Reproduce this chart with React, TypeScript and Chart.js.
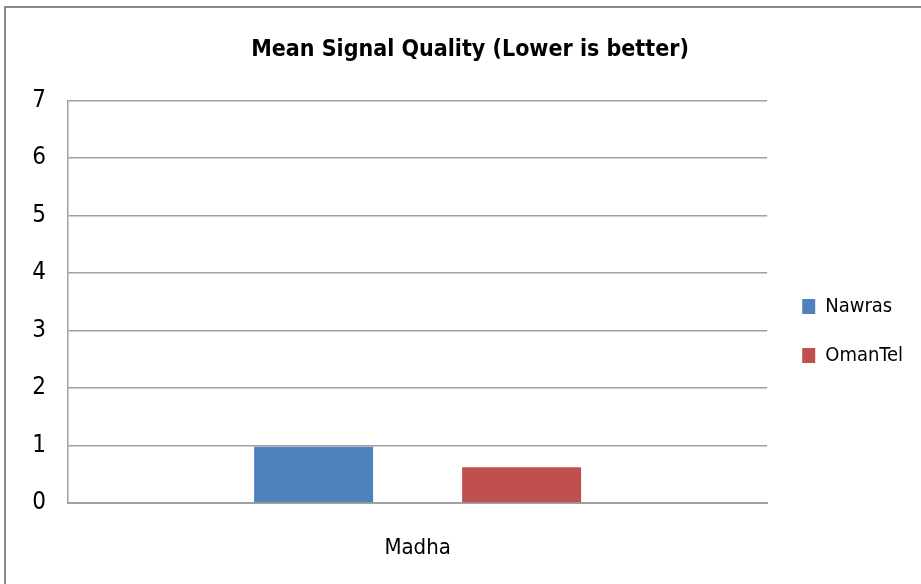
import React, { useEffect, useRef } from "react";
import { Chart, registerables } from "chart.js";

Chart.register(...registerables);

const categories = ["Madha"];
const seriesNames = ["Nawras", "OmanTel"];
const nawrasValues = [0.98];
const omanTelValues = [0.62];
const seriesColors = ["#4F81BD", "#C0504D"];
const yTicks = [0, 1, 2, 3, 4, 5, 6, 7];
const titleText = "Mean Signal Quality (Lower is better)";

const FONT = '"Liberation Sans Narrow", "DejaVu Sans Condensed", "Open Sans", sans-serif';

const framePlugin = {
  id: "frame",
  beforeDraw(chart: any) {
    const ctx = chart.ctx;
    ctx.save();
    ctx.fillStyle = "#ffffff";
    ctx.fillRect(0, 0, chart.width, chart.height);
    ctx.strokeStyle = "#8a8a8a";
    ctx.lineWidth = 2;
    ctx.beginPath();
    ctx.moveTo(5, chart.height);
    ctx.lineTo(5, 7);
    ctx.lineTo(chart.width, 7);
    ctx.stroke();
    ctx.restore();
  },
};

const legendShiftPlugin = {
  id: "legendShift",
  afterLayout(chart: any) {
    const lg = chart.legend;
    if (!lg) return;
    const dx = 6;
    const dy = 39;
    lg.left += dx;
    lg.right += dx;
    lg.top += dy;
    lg.bottom += dy;
  },
};

export default function App() {
  const ref = useRef<HTMLCanvasElement | null>(null);
  useEffect(() => {
    if (!ref.current) return;
    const chart = new Chart(ref.current, {
      type: "bar",
      data: {
        labels: categories,
        datasets: [
          {
            label: seriesNames[0],
            data: nawrasValues,
            backgroundColor: seriesColors[0],
            categoryPercentage: 0.595,
            barPercentage: 0.572,
          },
          {
            label: seriesNames[1],
            data: omanTelValues,
            backgroundColor: seriesColors[1],
            categoryPercentage: 0.595,
            barPercentage: 0.572,
          },
        ],
      },
      options: {
        animation: false,
        responsive: false,
        layout: { padding: { left: 33, right: 14, top: 0, bottom: 0 } },
        plugins: {
          title: {
            display: true,
            text: titleText,
            color: "#000000",
            font: { family: FONT, size: 23, weight: "bold" },
            padding: { top: 36, bottom: 37 },
          },
          legend: {
            position: "right",
            labels: {
              boxWidth: 13,
              boxHeight: 15,
              padding: 29,
              color: "#000000",
              font: { family: FONT, size: 20 },
            },
          },
          tooltip: { enabled: false },
        },
        scales: {
          x: {
            afterFit(scale: any) {
              scale.height = 81;
            },
            grid: { display: false, drawTicks: false },
            border: { color: "#a0a0a0", width: 2 },
            ticks: { color: "#000000", font: { family: FONT, size: 22 }, padding: 32 },
          },
          y: {
            min: 0,
            max: 7,
            afterFit(scale: any) {
              scale.width = 35;
            },
            afterBuildTicks(axis: any) {
              axis.ticks = yTicks.map((v) => ({ value: v }));
            },
            grid: { color: "#a0a0a0", lineWidth: 1.5, drawTicks: false },
            border: { color: "#a0a0a0", width: 1.5 },
            ticks: { color: "#000000", font: { family: FONT, size: 24 }, padding: 22 },
          },
        },
      },
      plugins: [framePlugin, legendShiftPlugin],
    } as any);
    return () => chart.destroy();
  }, []);
  return (
    <div style={{ position: "absolute", left: 0, top: 0, width: 921, height: 584 }}>
      <canvas ref={ref} width={921} height={584} style={{ width: 921, height: 584 }} />
    </div>
  );
}
